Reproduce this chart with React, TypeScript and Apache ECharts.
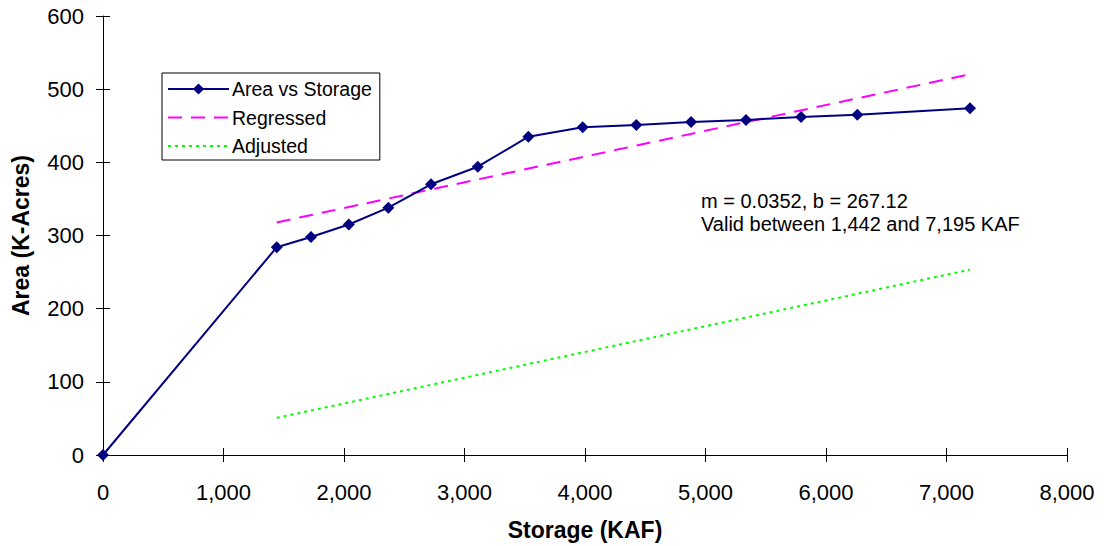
import React, { useEffect, useRef } from "react";
import * as echarts from "echarts";

// Storage (KAF) vs surface area (K-Acres) for the reservoir
const storage = [0, 1442, 1726, 2040, 2368, 2722, 3110, 3530, 3981, 4426, 4880, 5336, 5793, 6260, 7195];
const area = [0, 284, 298, 315, 338, 370, 394, 435, 448, 451, 455, 458, 462, 465, 474];

// Fitted line end points over the valid range (m = 0.0352, b = 267.12)
const regressedX = [1442, 7195];
const regressedY = [317.9, 520.4];

// Adjusted line end points over the same range
const adjustedX = [1442, 7195];
const adjustedY = [50.8, 253.3];

const annotationLines = ["m = 0.0352, b = 267.12", "Valid between 1,442 and 7,195 KAF"];

const FONT = "'Liberation Sans', Arial, sans-serif";

const fmt = (v: number) => v.toLocaleString("en-US");

export default function App() {
  const ref = useRef<HTMLDivElement>(null);

  useEffect(() => {
    if (!ref.current) return;
    const chart = echarts.init(ref.current, undefined, { renderer: "svg" });

    const pairs = (xs: number[], ys: number[]) => xs.map((x, i) => [x, ys[i]]);

    const baseX = {
      type: "value",
      min: 0,
      max: 8000,
      interval: 1000,
      splitLine: { show: false },
    };
    const baseY = {
      type: "value",
      min: 0,
      max: 600,
      interval: 100,
      splitLine: { show: false },
    };

    chart.setOption({
      animation: false,
      backgroundColor: "#ffffff",
      textStyle: { fontFamily: FONT },
      grid: { left: 103, right: 37, top: 16, bottom: 91, containLabel: false },
      xAxis: [
        {
          ...baseX,
          position: "bottom",
          name: "Storage (KAF)",
          nameLocation: "middle",
          nameGap: 63,
          nameTextStyle: { fontSize: 23, fontWeight: "bold", color: "#000", fontFamily: FONT },
          axisLine: { show: true, lineStyle: { color: "#000", width: 1 } },
          axisTick: { show: true, inside: false, length: 7, lineStyle: { color: "#000" } },
          axisLabel: { fontSize: 22, color: "#000", margin: 26, formatter: (v: number) => fmt(v), fontFamily: FONT },
        },
        {
          ...baseX,
          position: "bottom",
          axisLine: { show: false },
          axisTick: { show: true, inside: true, length: 7, lineStyle: { color: "#000" } },
          axisLabel: { show: false },
        },
      ],
      yAxis: [
        {
          ...baseY,
          position: "left",
          name: "Area (K-Acres)",
          nameLocation: "middle",
          nameGap: 71,
          nameTextStyle: { fontSize: 23, fontWeight: "bold", color: "#000", fontFamily: FONT },
          axisLine: { show: true, lineStyle: { color: "#000", width: 1 } },
          axisTick: { show: true, inside: false, length: 7, lineStyle: { color: "#000" } },
          axisLabel: { fontSize: 22, color: "#000", margin: 19, fontFamily: FONT },
        },
        {
          ...baseY,
          position: "left",
          axisLine: { show: false },
          axisTick: { show: true, inside: true, length: 7, lineStyle: { color: "#000" } },
          axisLabel: { show: false },
        },
      ],
      legend: {
        orient: "vertical",
        left: 162,
        top: 73,
        width: 216,
        backgroundColor: "#ffffff",
        borderColor: "#000",
        borderWidth: 1,
        padding: [6, 8, 4, 5],
        itemWidth: 61,
        itemHeight: 14,
        itemGap: 8.5,
        textStyle: { fontSize: 19.5, color: "#000", fontFamily: FONT, padding: [0, 0, 0, -2] },
        data: [
          { name: "Area vs Storage" },
          { name: "Regressed", itemStyle: { opacity: 0 } },
          { name: "Adjusted", itemStyle: { opacity: 0 } },
        ],
      },
      graphic: [
        {
          type: "text",
          left: 701,
          top: 189,
          style: {
            text: annotationLines.join("\n"),
            fontSize: 20,
            lineHeight: 23,
            fill: "#000",
            fontFamily: FONT,
          },
        },
      ],
      series: [
        {
          name: "Area vs Storage",
          type: "line",
          data: pairs(storage, area),
          symbol: "diamond",
          symbolSize: 12,
          lineStyle: { color: "#000080", width: 2 },
          itemStyle: { color: "#000080" },
          z: 5,
        },
        {
          name: "Regressed",
          type: "line",
          data: pairs(regressedX, regressedY),
          symbol: "none",
          lineStyle: { color: "#ff00ff", width: 2, type: [14, 9] },
          itemStyle: { color: "#ff00ff" },
          z: 4,
        },
        {
          name: "Adjusted",
          type: "line",
          data: pairs(adjustedX, adjustedY),
          symbol: "none",
          lineStyle: { color: "#00ff00", width: 2, type: [3, 4] },
          itemStyle: { color: "#00ff00" },
          z: 4,
        },
      ],
    });

    return () => chart.dispose();
  }, []);

  return (
    <div
      ref={ref}
      style={{ position: "fixed", left: 0, top: 0, width: 1104, height: 546, background: "#fff" }}
    />
  );
}
